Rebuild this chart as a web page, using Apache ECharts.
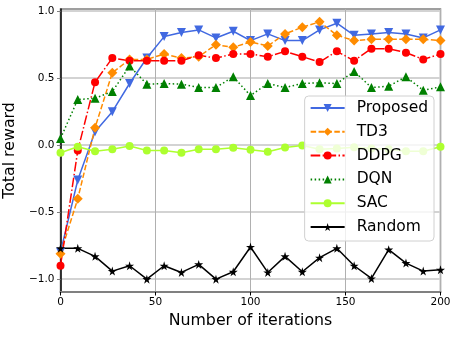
<!DOCTYPE html>
<html>
<head>
<meta charset="utf-8">
<script src="https://cdn.jsdelivr.net/npm/echarts@6/dist/echarts.min.js"></script>
<style>
html, body { margin: 0; padding: 0; background: #fff; }
#chart { width: 458px; height: 337px; }
</style>
</head>
<body>
<div id="chart"></div>
<script>
// x positions of the recorded points (23 evaluations between 0 and 200)
const iterations = [0, 9.09, 18.18, 27.27, 36.36, 45.45, 54.55, 63.64, 72.73, 81.82, 90.91, 100,
  109.09, 118.18, 127.27, 136.36, 145.45, 154.55, 163.64, 172.73, 181.82, 190.91, 200];

const proposed = [-0.80, -0.26, 0.10, 0.25, 0.46, 0.65, 0.81, 0.84, 0.86, 0.80, 0.85, 0.78,
  0.83, 0.78, 0.78, 0.86, 0.91, 0.82, 0.83, 0.84, 0.83, 0.80, 0.86];
const td3 = [-0.81, -0.40, 0.13, 0.54, 0.64, 0.64, 0.68, 0.65, 0.66, 0.75, 0.73, 0.77,
  0.74, 0.83, 0.88, 0.92, 0.82, 0.78, 0.79, 0.79, 0.79, 0.79, 0.78];
const ddpg = [-0.90, -0.04, 0.47, 0.65, 0.63, 0.63, 0.63, 0.63, 0.67, 0.65, 0.68, 0.68,
  0.66, 0.70, 0.66, 0.62, 0.70, 0.63, 0.72, 0.72, 0.69, 0.64, 0.68];
const dqn = [0.05, 0.34, 0.35, 0.40, 0.59, 0.455, 0.46, 0.455, 0.43, 0.43, 0.51, 0.37,
  0.46, 0.43, 0.46, 0.465, 0.46, 0.55, 0.43, 0.44, 0.51, 0.41, 0.435];
const sac = [-0.057, -0.012, -0.045, -0.03, -0.007, -0.04, -0.04, -0.057, -0.03, -0.03, -0.02, -0.035,
  -0.05, -0.017, -0.003, -0.03, -0.025, -0.015, -0.025, -0.03, -0.045, -0.045, -0.012];
const random = [-0.77, -0.77, -0.83, -0.94, -0.90, -1.00, -0.90, -0.95, -0.89, -1.00, -0.945, -0.76,
  -0.95, -0.83, -0.945, -0.84, -0.77, -0.90, -0.995, -0.78, -0.88, -0.94, -0.93];

const xTicks = [0, 50, 100, 150, 200];
const yTicks = [-1.0, -0.5, 0.0, 0.5, 1.0];

const FONT = 'DejaVu Sans';
const starPath = 'path://M50,0 L61,35 L98,35 L68,57 L79,91 L50,70 L21,91 L32,57 L2,35 L39,35 Z';
const downTriangle = 'path://M0,0 L10,0 L5,9 Z';

const pairs = arr => arr.map((v, i) => [iterations[i], v]);

function line(name, data, color, symbol, size, dash) {
  return {
    name: name,
    type: 'line',
    data: pairs(data),
    symbol: symbol,
    symbolSize: size,
    showAllSymbol: true,
    animation: false,
    lineStyle: {color: color, width: 1.5, type: dash},
    itemStyle: {color: color, borderWidth: 0}
  };
}

var myChart = echarts.init(document.getElementById('chart'));
const option = {
  animation: false,
  textStyle: {fontFamily: FONT},
  grid: {
    left: 60.5,
    right: 17.5,
    top: 9,
    bottom: 45,
    outerBoundsMode: 'none',
    containLabel: false,
    show: true,
    borderColor: '#808080',
    borderWidth: 1.5
  },
  legend: {
    right: 24,
    top: 96,
    orient: 'vertical',
    align: 'left',
    itemWidth: 34,
    itemHeight: 10,
    itemGap: 7.8,
    padding: [4, 6, 6, 5],
    backgroundColor: 'rgba(255,255,255,0.8)',
    borderColor: '#d0d0d0',
    borderWidth: 1,
    borderRadius: 4,
    textStyle: {fontFamily: FONT, fontSize: 15.5, color: '#000', lineHeight: 16, padding: [0, 0, 0, 7]},
    data: ['Proposed', 'TD3', 'DDPG', 'DQN', 'SAC', 'Random']
  },
  xAxis: {
    type: 'value',
    min: 0,
    max: 200,
    interval: 50,
    name: 'Number of iterations',
    nameLocation: 'middle',
    nameGap: 21,
    nameTextStyle: {fontFamily: FONT, fontSize: 15.8, color: '#000'},
    axisLine: {show: true, onZero: false, lineStyle: {color: '#808080', width: 2}},
    axisTick: {show: true, length: 3.5, lineStyle: {color: '#000'}},
    axisLabel: {fontFamily: FONT, fontSize: 10.5, color: '#000', margin: 5},
    splitLine: {show: true, lineStyle: {color: '#b0b0b0', width: 1}}
  },
  yAxis: {
    type: 'value',
    min: -1.096,
    max: 1.016,
    name: 'Total reward',
    nameLocation: 'middle',
    nameGap: 33,
    nameTextStyle: {fontFamily: FONT, fontSize: 15.8, color: '#000'},
    axisLine: {show: true, onZero: false, lineStyle: {color: '#000', width: 1.5}},
    axisTick: {show: true, length: 3.5, customValues: yTicks, lineStyle: {color: '#808080'}},
    axisLabel: {
      fontFamily: FONT, fontSize: 10.5, color: '#000', margin: 6,
      customValues: yTicks,
      formatter: v => v.toFixed(1).replace('-', '\u2212')
    },
    splitLine: {show: true, lineStyle: {color: '#d3d3d3', width: 2}}
  },
  series: [
    line('Proposed', proposed, '#4169E1', downTriangle, 9, 'solid'),
    line('TD3', td3, '#FF8C00', 'diamond', 10, [5.5, 2.4]),
    line('DDPG', ddpg, '#FF0000', 'circle', 8, [9.6, 2.4, 1.5, 2.4]),
    line('DQN', dqn, '#008000', 'triangle', 9, [1.5, 2.5]),
    line('SAC', sac, '#ADFF2F', 'circle', 8, 'solid'),
    line('Random', random, '#000000', starPath, 9, 'solid')
  ]
};

myChart.setOption(option);
</script>
</body>
</html>
